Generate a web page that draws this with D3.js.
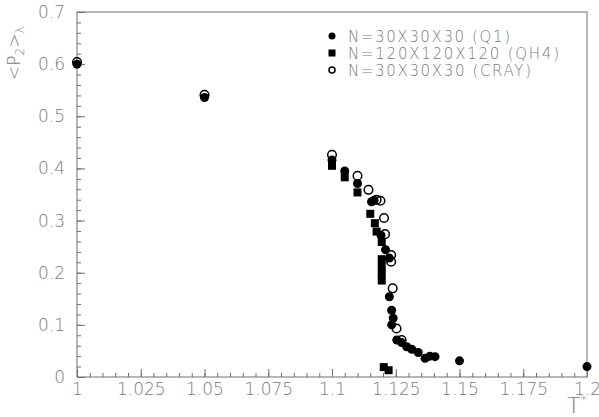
<!DOCTYPE html>
<html>
<head>
<meta charset="utf-8">
<script src="https://cdn.jsdelivr.net/npm/d3@7"></script>
<style>
body { margin: 0; background: #fff; }
text { font-family: "DejaVu Sans", "Liberation Sans", sans-serif; fill: #7a7a7a; }
</style>
</head>
<body>
<div id="chart"></div>
<script>
// tick labels
var xTicks = [1, 1.025, 1.05, 1.075, 1.1, 1.125, 1.15, 1.175, 1.2];
var xTickLabels = ['1', '1.025', '1.05', '1.075', '1.1', '1.125', '1.15', '1.175', '1.2'];
var yTicks = [0, 0.1, 0.2, 0.3, 0.4, 0.5, 0.6, 0.7];
var yTickLabels = ['0', '0.1', '0.2', '0.3', '0.4', '0.5', '0.6', '0.7'];

// series: N=30X30X30 (Q1), filled circles
var q1T = [1, 1.05, 1.1, 1.105, 1.11, 1.1155, 1.1165, 1.1192, 1.121, 1.1225, 1.1225, 1.1234, 1.124, 1.1234,
           1.1254, 1.1273, 1.1293, 1.1313, 1.1338, 1.1365, 1.1384, 1.1404, 1.15, 1.2];
var q1P = [0.600, 0.536, 0.416, 0.395, 0.371, 0.336, 0.339, 0.272, 0.244, 0.228, 0.154, 0.128, 0.113, 0.100,
           0.071, 0.066, 0.058, 0.053, 0.047, 0.036, 0.040, 0.039, 0.031, 0.020];

// series: N=120X120X120 (QH4), filled squares
var qh4T = [1.1, 1.105, 1.11, 1.115, 1.1168, 1.1175, 1.1195, 1.1195, 1.1195, 1.1195, 1.1195, 1.1203, 1.1222];
var qh4P = [0.405, 0.383, 0.354, 0.313, 0.295, 0.279, 0.259, 0.226, 0.212, 0.198, 0.185, 0.019, 0.013];

// series: N=30X30X30 (CRAY), open circles
var crayT = [1, 1.05, 1.1, 1.11, 1.1143, 1.1175, 1.119, 1.1204, 1.1208, 1.1232, 1.1232, 1.1238, 1.1253, 1.1273];
var crayP = [0.604, 0.541, 0.426, 0.386, 0.359, 0.340, 0.338, 0.305, 0.274, 0.234, 0.221, 0.170, 0.093, 0.071];

var legendLabels = ['N=30X30X30 (Q1)', 'N=120X120X120 (QH4)', 'N=30X30X30 (CRAY)'];

var width = 599, height = 417;
var margin = {left: 77, top: 12, right: 12, bottom: 40};

var svg = d3.select('#chart').append('svg')
    .attr('width', width)
    .attr('height', height);

var x = d3.scaleLinear().domain([1, 1.2]).range([margin.left, width - margin.right]);
var y = d3.scaleLinear().domain([0, 0.7]).range([height - margin.bottom, margin.top]);

var axisColor = '#6e6e6e';

// minor ticks
svg.append('g')
    .attr('transform', 'translate(0,' + y(0) + ')')
    .call(d3.axisBottom(x).ticks(40).tickSize(-4).tickFormat(''))
    .call(function(g) { g.select('.domain').remove(); });
svg.append('g')
    .attr('transform', 'translate(' + x(1) + ',0)')
    .call(d3.axisLeft(y).ticks(35).tickSize(-4).tickFormat(''))
    .call(function(g) { g.select('.domain').remove(); });

// major ticks + labels
var xAxis = svg.append('g')
    .attr('transform', 'translate(0,' + y(0) + ')')
    .call(d3.axisBottom(x).tickValues(xTicks).tickSize(-8).tickPadding(18)
        .tickFormat(function(d, i) { return xTickLabels[i]; }));
var yAxis = svg.append('g')
    .attr('transform', 'translate(' + x(1) + ',0)')
    .call(d3.axisLeft(y).tickValues(yTicks).tickSize(-8).tickPadding(12)
        .tickFormat(function(d, i) { return yTickLabels[i]; }));

svg.selectAll('.domain').remove();
svg.selectAll('.tick line').attr('stroke', axisColor);
svg.selectAll('.tick text').attr('font-size', 17).attr('fill', '#7a7a7a')
    .style('font-family', '"DejaVu Sans", sans-serif').style('font-weight', 200);
xAxis.selectAll('.tick text').attr('dy', 0).attr('y', 18);

// frame
svg.append('rect')
    .attr('x', x(1)).attr('y', y(0.7))
    .attr('width', x(1.2) - x(1)).attr('height', y(0) - y(0.7))
    .attr('fill', 'none').attr('stroke', axisColor).attr('stroke-width', 1);

// points
var plot = svg.append('g');
plot.selectAll('circle.q1')
    .data(d3.zip(q1T, q1P))
    .enter().append('circle')
    .attr('class', 'q1')
    .attr('cx', function(d) { return x(d[0]); })
    .attr('cy', function(d) { return y(d[1]); })
    .attr('r', 4.5)
    .attr('fill', '#000');

plot.selectAll('rect.qh4')
    .data(d3.zip(qh4T, qh4P))
    .enter().append('rect')
    .attr('class', 'qh4')
    .attr('x', function(d) { return x(d[0]) - 4; })
    .attr('y', function(d) { return y(d[1]) - 4; })
    .attr('width', 8).attr('height', 8)
    .attr('fill', '#000');

plot.selectAll('circle.cray')
    .data(d3.zip(crayT, crayP))
    .enter().append('circle')
    .attr('class', 'cray')
    .attr('cx', function(d) { return x(d[0]); })
    .attr('cy', function(d) { return y(d[1]); })
    .attr('r', 4.3)
    .attr('fill', 'none')
    .attr('stroke', '#000')
    .attr('stroke-width', 1.5);

// legend
var legendY = [36, 53, 70];
var legendLen = [162, 211, 183];
var legend = svg.append('g');
legend.append('circle').attr('cx', 332).attr('cy', legendY[0]).attr('r', 3.5).attr('fill', '#000');
legend.append('rect').attr('x', 328.5).attr('y', legendY[1] - 3.5).attr('width', 7).attr('height', 7).attr('fill', '#000');
legend.append('circle').attr('cx', 332).attr('cy', legendY[2]).attr('r', 3).attr('fill', 'none')
    .attr('stroke', '#000').attr('stroke-width', 1.5);
legend.selectAll('text')
    .data(legendLabels)
    .enter().append('text')
    .attr('x', 348)
    .attr('y', function(d, i) { return legendY[i] + 5.5; })
    .attr('font-size', 15)
    .attr('textLength', function(d, i) { return legendLen[i]; })
    .attr('lengthAdjust', 'spacing')
    .style('font-weight', 200)
    .text(function(d) { return d; });

// axis titles
var yTitle = svg.append('text')
    .attr('transform', 'translate(20,80) rotate(-90)')
    .attr('font-size', 17)
    .style('font-weight', 200);
yTitle.append('tspan').text('<P');
yTitle.append('tspan').attr('font-size', 12).attr('dy', 4).text('2');
yTitle.append('tspan').attr('dy', -4).text('>');
yTitle.append('tspan').attr('font-size', 12).attr('dy', 4).text('λ');

var xTitle = svg.append('text')
    .attr('x', 567).attr('y', 413)
    .attr('font-size', 22)
    .style('font-weight', 200);
xTitle.append('tspan').text('T');
xTitle.append('tspan').attr('font-size', 13).attr('dy', -9).text('*');
</script>
</body>
</html>
